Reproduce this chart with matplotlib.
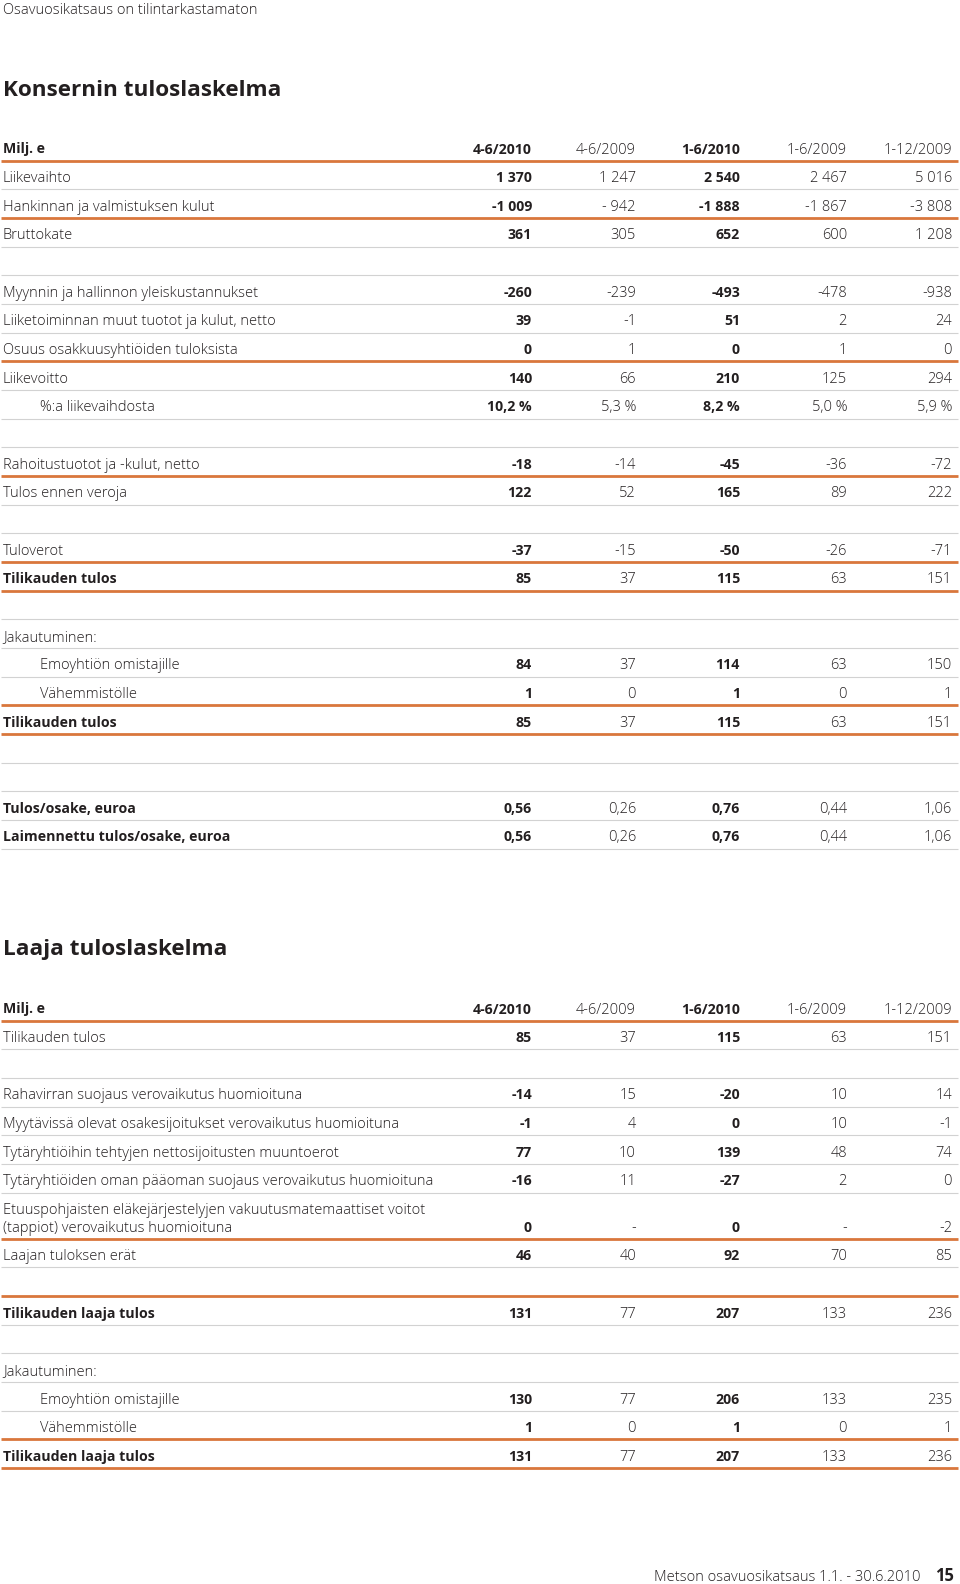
import matplotlib
matplotlib.use("Agg")
import matplotlib.pyplot as plt

# ---- data ----
periods = ["4-6/2010", "4-6/2009", "1-6/2010", "1-6/2009", "1-12/2009"]

# Konsernin tuloslaskelma (None = empty spacer row)
t1_labels = [
    "Liikevaihto", "Hankinnan ja valmistuksen kulut", "Bruttokate", None,
    "Myynnin ja hallinnon yleiskustannukset", "Liiketoiminnan muut tuotot ja kulut, netto",
    "Osuus osakkuusyhtiöiden tuloksista", "Liikevoitto", "%:a liikevaihdosta", None,
    "Rahoitustuotot ja -kulut, netto", "Tulos ennen veroja", None,
    "Tuloverot", "Tilikauden tulos", None,
    "Jakautuminen:", "Emoyhtiön omistajille", "Vähemmistölle", "Tilikauden tulos", None, None,
    "Tulos/osake, euroa", "Laimennettu tulos/osake, euroa",
]
t1_q2_2010 = ["1 370", "-1 009", "361", None, "-260", "39", "0", "140", "10,2 %", None,
              "-18", "122", None, "-37", "85", None, None, "84", "1", "85", None, None, "0,56", "0,56"]
t1_q2_2009 = ["1 247", "- 942", "305", None, "-239", "-1", "1", "66", "5,3 %", None,
              "-14", "52", None, "-15", "37", None, None, "37", "0", "37", None, None, "0,26", "0,26"]
t1_h1_2010 = ["2 540", "-1 888", "652", None, "-493", "51", "0", "210", "8,2 %", None,
              "-45", "165", None, "-50", "115", None, None, "114", "1", "115", None, None, "0,76", "0,76"]
t1_h1_2009 = ["2 467", "-1 867", "600", None, "-478", "2", "1", "125", "5,0 %", None,
              "-36", "89", None, "-26", "63", None, None, "63", "0", "63", None, None, "0,44", "0,44"]
t1_y_2009 = ["5 016", "-3 808", "1 208", None, "-938", "24", "0", "294", "5,9 %", None,
             "-72", "222", None, "-71", "151", None, None, "150", "1", "151", None, None, "1,06", "1,06"]
t1_bold = ["Tilikauden tulos", "Tulos/osake, euroa", "Laimennettu tulos/osake, euroa"]
t1_indent = ["%:a liikevaihdosta", "Emoyhtiön omistajille", "Vähemmistölle"]
# rule under header + each row: O = orange, G = grey
t1_rules = "OGOGGGGOGGGOGGOOGGGOOGGGG"

# Laaja tuloslaskelma
t2_labels = [
    "Tilikauden tulos", None,
    "Rahavirran suojaus verovaikutus huomioituna",
    "Myytävissä olevat osakesijoitukset verovaikutus huomioituna",
    "Tytäryhtiöihin tehtyjen nettosijoitusten muuntoerot",
    "Tytäryhtiöiden oman pääoman suojaus verovaikutus huomioituna",
    "Etuuspohjaisten eläkejärjestelyjen vakuutusmatemaattiset voitot\n(tappiot) verovaikutus huomioituna",
    "Laajan tuloksen erät", None,
    "Tilikauden laaja tulos", None,
    "Jakautuminen:", "Emoyhtiön omistajille", "Vähemmistölle", "Tilikauden laaja tulos",
]
t2_q2_2010 = ["85", None, "-14", "-1", "77", "-16", "0", "46", None, "131", None, None, "130", "1", "131"]
t2_q2_2009 = ["37", None, "15", "4", "10", "11", "-", "40", None, "77", None, None, "77", "0", "77"]
t2_h1_2010 = ["115", None, "-20", "0", "139", "-27", "0", "92", None, "207", None, None, "206", "1", "207"]
t2_h1_2009 = ["63", None, "10", "10", "48", "2", "-", "70", None, "133", None, None, "133", "0", "133"]
t2_y_2009 = ["151", None, "14", "-1", "74", "0", "-2", "85", None, "236", None, None, "235", "1", "236"]
t2_bold = ["Tilikauden laaja tulos"]
t2_indent = ["Emoyhtiön omistajille", "Vähemmistölle"]
t2_rules = "OGGGGGGOGOGGGGOO"

# ---- layout ----
W, H = 960, 1584
ORANGE = "#d9773c"
GREY = "#d2d2d2"
DARK = "#231f20"
FONT = "Open Sans"
ROW = 28.67
COL_X = [532, 636, 740, 847, 952]
BOLD_COLS = [0, 2]
FS = 10.5
FS_BOLD = 10.2

fig = plt.figure(figsize=(W / 100, H / 100), dpi=100)
ax = fig.add_axes([0, 0, 1, 1])
ax.set_xlim(0, W)
ax.set_ylim(H, 0)
ax.axis("off")


def txt(x, y, s, bold=False, size=None, ha="left"):
    if size is None:
        size = FS_BOLD if bold else FS
    ax.text(x, y, s, ha=ha, va="baseline", fontsize=size, family=FONT,
            fontweight="bold" if bold else "light", color=DARK)


def rule(y, kind):
    ax.plot([1, 958], [y, y], color=ORANGE if kind == "O" else GREY,
            lw=2.0 if kind == "O" else 0.8, solid_capstyle="butt")


def draw_table(top, labels, cols, bold_labels, indent_labels, rules):
    # header row
    txt(3, top + 6, "Milj. e", bold=True)
    for j, p in enumerate(periods):
        txt(COL_X[j], top + 6, p, bold=j in BOLD_COLS, ha="right")
    line_y = top + 13
    rule(line_y, rules[0])
    for i, lab in enumerate(labels):
        nlines = 1 if lab is None else lab.count("\n") + 1
        h = ROW + 17.5 * (nlines - 1)
        first = line_y + 15.5
        last = first + 18.3 * (nlines - 1)
        if lab is not None:
            b = lab in bold_labels
            x0 = 40 if lab in indent_labels else 3
            for k, part in enumerate(lab.split("\n")):
                txt(x0, first + 18.3 * k + 6, part, bold=b)
            for j, col in enumerate(cols):
                if col[i] is not None:
                    txt(COL_X[j], last + 6, col[i], bold=j in BOLD_COLS, ha="right")
        line_y += h
        rule(line_y, rules[i + 1])


txt(3, 14, "Osavuosikatsaus on tilintarkastamaton")
txt(3, 96, "Konsernin tuloslaskelma", bold=True, size=16.2)
draw_table(147.5, t1_labels, [t1_q2_2010, t1_q2_2009, t1_h1_2010, t1_h1_2009, t1_y_2009],
           t1_bold, t1_indent, t1_rules)

txt(3, 955, "Laaja tuloslaskelma", bold=True, size=16.2)
draw_table(1007.5, t2_labels, [t2_q2_2010, t2_q2_2009, t2_h1_2010, t2_h1_2009, t2_y_2009],
           t2_bold, t2_indent, t2_rules)

txt(921, 1581, "Metson osavuosikatsaus 1.1. - 30.6.2010", ha="right")
txt(954, 1581, "15", bold=True, size=12, ha="right")

fig.savefig("out.png", dpi=100)
